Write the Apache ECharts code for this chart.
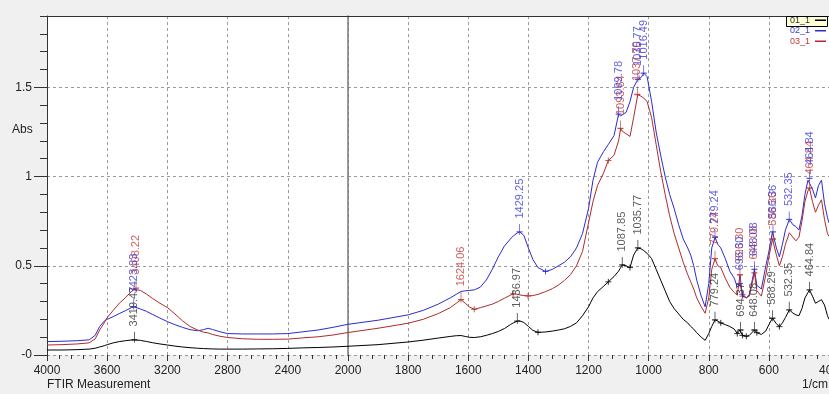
<!DOCTYPE html>
<html><head><meta charset="utf-8">
<script src="https://cdn.jsdelivr.net/npm/echarts@6/dist/echarts.min.js"></script>
<style>html,body{margin:0;padding:0;background:#f0f0f0}#c{width:829px;height:394px}</style>
</head><body><div id="c"></div>
<script>
// ---- data (wavenumber in 1/cm, absorbance) ----
const wavenumbers = [4000,3900,3800,3720,3680,3650,3620,3600,3560,3520,3480,3440,3420,3408,3380,3340,3300,3250,3200,3150,3100,3050,3000,2960,2930,2900,2850,2800,2700,2600,2500,2400,2300,2200,2100,2000,
1900,1800,1750,1700,1660,1640,1624,1610,1595,1580,1560,1540,1520,1500,1480,1460,1450,1437,1429,1415,1400,1385,1368,1343,1320,1300,1280,1260,1240,1220,1200,1185,1170,1150,1134,1115,1100,1093,1088,1075,1062,1050,1036,1025,1016,1005,990,975,960,945,930,915,900,885,870,860,850,840,825,812,800,790,779,770,760,745,730,715,705,696,688,675,665,648,640,625,610,600,588,575,565,555,545,532,520,510,500,490,480,470,465,455,445,435,425,415,405,400];
const abs01 = [0.028,0.028,0.030,0.033,0.038,0.045,0.052,0.058,0.068,0.075,0.080,0.084,0.085,0.085,0.082,0.076,0.069,0.062,0.056,0.050,0.045,0.041,0.038,0.036,0.035,0.034,0.033,0.033,0.033,0.034,0.035,0.037,0.040,0.042,0.045,0.049,
0.058,0.073,0.083,0.095,0.104,0.108,0.109,0.104,0.099,0.098,0.102,0.110,0.120,0.132,0.148,0.170,0.180,0.190,0.191,0.182,0.160,0.138,0.127,0.129,0.134,0.140,0.147,0.160,0.180,0.220,0.270,0.320,0.355,0.385,0.410,0.440,0.470,0.490,0.505,0.500,0.490,0.560,0.600,0.595,0.585,0.570,0.540,0.480,0.420,0.360,0.300,0.260,0.230,0.200,0.180,0.160,0.145,0.125,0.100,0.082,0.120,0.160,0.197,0.190,0.180,0.170,0.160,0.145,0.120,0.140,0.110,0.105,0.110,0.140,0.125,0.115,0.135,0.170,0.206,0.175,0.159,0.180,0.210,0.253,0.235,0.225,0.220,0.260,0.320,0.350,0.365,0.330,0.290,0.300,0.310,0.280,0.220,0.200];
const abs02 = [0.075,0.077,0.080,0.085,0.110,0.160,0.190,0.200,0.215,0.232,0.248,0.265,0.270,0.268,0.258,0.245,0.228,0.207,0.187,0.170,0.155,0.142,0.136,0.142,0.150,0.143,0.130,0.120,0.118,0.118,0.118,0.120,0.130,0.140,0.155,0.172,
0.195,0.225,0.250,0.285,0.320,0.340,0.356,0.360,0.362,0.365,0.380,0.420,0.480,0.550,0.610,0.650,0.668,0.684,0.690,0.670,0.600,0.535,0.490,0.468,0.480,0.500,0.520,0.550,0.600,0.680,0.820,0.980,1.080,1.140,1.180,1.230,1.350,1.340,1.330,1.360,1.420,1.500,1.545,1.555,1.580,1.560,1.420,1.250,1.120,1.000,0.900,0.820,0.730,0.650,0.600,0.560,0.500,0.420,0.330,0.270,0.400,0.600,0.660,0.620,0.600,0.540,0.470,0.430,0.380,0.400,0.340,0.320,0.340,0.480,0.390,0.370,0.500,0.580,0.690,0.600,0.550,0.620,0.700,0.760,0.730,0.720,0.700,0.780,0.900,0.980,0.990,0.930,0.880,0.950,0.980,0.850,0.770,0.740];
const abs03 = [0.056,0.058,0.062,0.068,0.090,0.140,0.180,0.210,0.250,0.290,0.320,0.355,0.368,0.375,0.362,0.342,0.318,0.290,0.266,0.230,0.192,0.160,0.140,0.128,0.124,0.115,0.105,0.098,0.091,0.088,0.088,0.089,0.096,0.102,0.112,0.126,
0.150,0.178,0.200,0.232,0.265,0.290,0.310,0.290,0.268,0.256,0.265,0.275,0.285,0.300,0.318,0.335,0.343,0.340,0.337,0.333,0.331,0.333,0.340,0.355,0.372,0.392,0.418,0.450,0.500,0.580,0.740,0.860,0.950,1.020,1.090,1.120,1.200,1.270,1.255,1.240,1.225,1.330,1.460,1.450,1.440,1.420,1.330,1.180,1.030,0.900,0.780,0.680,0.600,0.520,0.450,0.410,0.370,0.320,0.270,0.234,0.320,0.480,0.540,0.500,0.490,0.430,0.380,0.350,0.335,0.450,0.330,0.320,0.330,0.460,0.360,0.330,0.450,0.550,0.650,0.560,0.500,0.550,0.620,0.685,0.660,0.640,0.660,0.750,0.860,0.920,0.936,0.860,0.800,0.840,0.870,0.760,0.680,0.665];
const seriesNames = ['01_1','02_1','03_1'];
const seriesColors = ['#000000','#2b2bd0','#b02a2a'];
const labelColors = ['#333333','#3a3ad8','#c03838'];
// labelled peaks [wavenumber, absorbance]
const peaks01 = [[3419.47,0.085],[1436.97,0.19],[1087.85,0.505],[1035.77,0.60],[779.24,0.197],[694.37,0.14],[648.08,0.14],[588.29,0.206],[532.35,0.253],[464.84,0.365]];
const peaks02 = [[3423.33,0.27],[1429.25,0.69],[1099.78,1.35],[1035.77,1.545],[1016.49,1.58],[779.24,0.66],[696.30,0.40],[648.08,0.48],[586.36,0.69],[532.35,0.76],[464.84,0.99]];
const peaks03 = [[3408.22,0.375],[1624.06,0.31],[1093.64,1.27],[1037.70,1.46],[779.24,0.54],[696.30,0.45],[648.08,0.46],[586.36,0.65],[464.84,0.936]];
// unlabelled valley markers
const marks01 = [[1368,0.127],[1134,0.41],[1062,0.49],[760,0.18],[705,0.12],[688,0.11],[675,0.105],[640,0.125],[565,0.159]];
const marks02 = [[1343,0.468],[688,0.34]];
const marks03 = [[1580,0.256],[1451,0.343],[1401,0.331],[1134,1.09],[688,0.33]];
const xTicksLeft = [4000,3600,3200,2800,2400,2000];
const xTicksRight = [2000,1800,1600,1400,1200,1000,800,600,400];
const yTicks = [0,0.5,1,1.5];

const FONT = '"Liberation Sans", Arial, sans-serif';
const absArrays = [abs01, abs02, abs03];
const peakArrays = [peaks01, peaks02, peaks03];
const markArrays = [marks01, marks02, marks03];
const split = (pts, g) => pts.filter(p => g === 0 ? p[0] >= 2000 : p[0] <= 2000);
const dashed = {show:true, lineStyle:{color:'#9a9a9a', type:[3,3], width:1}};
const hidden = {axisLine:{show:false}, axisTick:{show:false}, axisLabel:{show:false}, splitLine:{show:false}};

const xAxis = [
  {gridIndex:0, type:'value', min:2000, max:4000, inverse:true, interval:400, position:'bottom',
   axisLine:{show:false}, axisTick:{show:true, length:6, lineStyle:{color:'#333'}},
   minorTick:{show:true, splitNumber:5, length:4, lineStyle:{color:'#333'}},
   axisLabel:{fontSize:12, color:'#222', margin:10, fontFamily:FONT, formatter: v => xTicksLeft.includes(v) ? String(v) : ''},
   splitLine:dashed},
  {gridIndex:1, type:'value', min:400, max:2000, inverse:true, interval:200, position:'bottom',
   axisLine:{show:false}, axisTick:{show:true, length:6, lineStyle:{color:'#333'}},
   minorTick:{show:true, splitNumber:5, length:4, lineStyle:{color:'#333'}},
   axisLabel:{fontSize:12, color:'#222', margin:10, fontFamily:FONT, showMaxLabel:false,
     formatter: v => xTicksRight.includes(v) ? String(v) : ''},
   splitLine:dashed},
  {gridIndex:0, type:'value', min:2000, max:4000, inverse:true, position:'top',
   axisLine:{show:true, lineStyle:{color:'#333', width:1}}, axisTick:{show:false}, axisLabel:{show:false}, splitLine:{show:false}},
  {gridIndex:1, type:'value', min:400, max:2000, inverse:true, position:'top',
   axisLine:{show:true, lineStyle:{color:'#333', width:1}}, axisTick:{show:false}, axisLabel:{show:false}, splitLine:{show:false}},
  Object.assign({gridIndex:2, type:'value', min:2000, max:4000, inverse:true, position:'bottom'}, hidden)
];
const yAxis = [
  {gridIndex:0, type:'value', min:0, max:1.9, interval:0.5, position:'left',
   axisLine:{show:true, lineStyle:{color:'#333'}}, axisTick:{show:true, length:13, lineStyle:{color:'#333'}},
   axisLabel:{fontSize:12, color:'#222', margin:15, fontFamily:FONT, showMaxLabel:false,
     formatter: v => yTicks.includes(v) ? (v === 0 ? '-0' : String(v)) : ''},
   splitLine:dashed},
  {gridIndex:2, type:'value', min:0, max:1.9, interval:0.1, position:'left',
   axisLine:{show:false}, axisTick:{show:true, length:7, lineStyle:{color:'#333'}}, axisLabel:{show:false}, splitLine:{show:false}},
  {gridIndex:1, type:'value', min:0, max:1.9, interval:0.5, position:'left',
   axisLine:{show:true, lineStyle:{color:'#7a7a7a', width:1.5}}, axisTick:{show:false}, axisLabel:{show:false}, splitLine:dashed}
];

const series = [];
const order = [0, 2, 1];
order.forEach(i => {
  const pts = wavenumbers.map((w, k) => [w, absArrays[i][k]]);
  [0, 1].forEach(g => {
    series.push({type:'line', name:seriesNames[i], xAxisIndex:g, yAxisIndex:g === 0 ? 0 : 2,
      data:split(pts, g), showSymbol:false, symbol:'none',
      lineStyle:{color:seriesColors[i], width:1}, itemStyle:{color:seriesColors[i]}, z:2 + i, silent:true});
    series.push({type:'scatter', name:seriesNames[i], xAxisIndex:g, yAxisIndex:g === 0 ? 0 : 2,
      data:split(peakArrays[i], g), symbol:'path://M3,0L3,11M0,8L6,8', symbolSize:[6,11], symbolOffset:[0,-2.5],
      itemStyle:{color:'none', borderColor:seriesColors[i], borderWidth:1}, silent:true, z:5,
      label:{show:true, position:'top', distance:2, rotate:90, align:'left', verticalAlign:'middle',
        color:labelColors[i], fontSize:11, fontFamily:FONT, formatter: p => p.data[0].toFixed(2)}});
    series.push({type:'scatter', name:seriesNames[i], xAxisIndex:g, yAxisIndex:g === 0 ? 0 : 2,
      data:split(markArrays[i], g), symbol:'path://M3,0L3,6M0,3L6,3', symbolSize:[6,6],
      itemStyle:{color:'none', borderColor:seriesColors[i], borderWidth:1}, silent:true, z:5});
  });
});

const chart = echarts.init(document.getElementById('c'), null, {renderer:'canvas'});
chart.setOption({
  animation:false,
  backgroundColor:'#f0f0f0',
  grid:[
    {left:47, top:16, width:301, height:339, show:true, backgroundColor:'#ffffff', borderWidth:0, outerBoundsMode:'none'},
    {left:348, top:16, right:0, height:339, show:true, backgroundColor:'#ffffff', borderWidth:0, outerBoundsMode:'none'},
    {left:47, top:16, width:301, height:339, show:false, outerBoundsMode:'none'}
  ],
  xAxis, yAxis, series,
  legend:{right:3, top:15, padding:0, orient:'vertical', align:'right', itemGap:0, itemWidth:11, itemHeight:1.5, itemTextGap:9,
    icon:'rect', selectedMode:false, z:20, textStyle:{fontSize:9, fontFamily:FONT, lineHeight:10.5},
    data:seriesNames.map((n, i) => ({name:n, icon:'rect', itemStyle:{color:seriesColors[i], borderWidth:0}, textStyle:{color:labelColors[i]}}))},
  graphic:[
    {type:'rect', right:1, top:16, z:1, shape:{width:41, height:10}, style:{fill:'#ffffd8', stroke:'#000', lineWidth:1}},
    {type:'text', left:12, top:124, style:{text:'Abs', font:'12px ' + FONT, fill:'#222'}},
    {type:'text', left:47, top:379, style:{text:'FTIR Measurement', font:'12px ' + FONT, fill:'#222'}},
    {type:'text', right:1, top:379, style:{text:'1/cm', font:'12px ' + FONT, fill:'#222'}}
  ]
});
</script></body></html>
